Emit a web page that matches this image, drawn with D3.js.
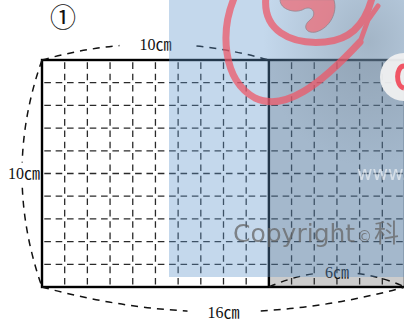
<!DOCTYPE html>
<html>
<head>
<meta charset="utf-8">
<script src="https://cdn.jsdelivr.net/npm/d3@7"></script>
<style>
    body { margin: 0; background: #fff; }
    svg { display: block; }
    .lbl { font-family: "Liberation Serif", "Noto Sans CJK JP", serif; font-size: 16px; fill: #111; }
</style>
</head>
<body>
<svg id="chart" width="404" height="319"></svg>
<script>
// grid size in cm (one cell = 1cm)
var columns = d3.range(0, 17);
var rows = d3.range(0, 11);
// the thick split line and shaded part
var splitAt = 10;
var shadedFrom = 10, shadedTo = 16;
// brace labels
var braces = [
    {name: "top", from: [0, 0], to: [10, 0], label: "10㎝", bulge: -16},
    {name: "left", from: [0, 0], to: [0, 10], label: "10㎝", bulge: -20},
    {name: "bottom", from: [0, 10], to: [16, 10], label: "16㎝", bulge: 25},
    {name: "part", from: [10, 10], to: [16, 10], label: "6㎝", bulge: -15}
];
var figureNo = "①";

const width = 404, height = 319;
var svg = d3.select("#chart");

var xScale = d3.scaleLinear().domain([0, 16]).range([42, 405]);
var yScale = d3.scaleLinear().domain([0, 10]).range([60, 287]);

// shaded part of the rectangle
svg.append("rect")
    .attr("x", xScale(shadedFrom))
    .attr("y", yScale(0))
    .attr("width", xScale(shadedTo) - xScale(shadedFrom))
    .attr("height", yScale(10) - yScale(0))
    .attr("fill", "#cccccc");

// dashed inner grid
var grid = svg.append("g").attr("class", "grid")
    .attr("stroke", "#2a2a2a")
    .attr("stroke-width", 1.3)
    .attr("stroke-dasharray", "6.6,4.75")
    .attr("stroke-dashoffset", -2.3);

grid.selectAll(".h")
    .data(rows.filter(r => r > 0 && r < 10))
    .enter().append("line")
    .attr("class", "h")
    .attr("x1", xScale(0)).attr("x2", xScale(16))
    .attr("y1", d => yScale(d)).attr("y2", d => yScale(d));

grid.selectAll(".v")
    .data(columns.filter(c => c > 0 && c < 16 && c !== splitAt))
    .enter().append("line")
    .attr("class", "v")
    .attr("y1", yScale(0)).attr("y2", yScale(10))
    .attr("x1", d => xScale(d)).attr("x2", d => xScale(d));

// outline + split line
var outline = svg.append("g")
    .attr("stroke", "#000")
    .attr("stroke-width", 2.4)
    .attr("fill", "none");
outline.append("rect")
    .attr("x", xScale(0)).attr("y", yScale(0))
    .attr("width", xScale(16) - xScale(0))
    .attr("height", yScale(10) - yScale(0));
outline.append("line")
    .attr("x1", xScale(splitAt)).attr("x2", xScale(splitAt))
    .attr("y1", yScale(0)).attr("y2", yScale(10));

// dashed braces with a gap for the label
braces.forEach(b => {
    var x0 = xScale(b.from[0]), y0 = yScale(b.from[1]);
    var x1 = xScale(b.to[0]), y1 = yScale(b.to[1]);
    var mx = (x0 + x1) / 2, my = (y0 + y1) / 2;
    var vertical = x0 === x1;
    // control point pulled out twice the bulge so the curve apex is at bulge
    var cx = vertical ? mx + b.bulge * 2 : mx;
    var cy = vertical ? my : my + b.bulge * 2;
    var apexX = vertical ? mx + b.bulge : mx;
    var apexY = vertical ? my : my + b.bulge;

    var path = d3.path();
    path.moveTo(x0, y0);
    path.quadraticCurveTo(cx, cy, x1, y1);

    var g = svg.append("g").attr("class", "brace_" + b.name);
    var maskId = "mask_" + b.name;
    var mask = svg.append("mask").attr("id", maskId);
    mask.append("rect").attr("width", width).attr("height", height).attr("fill", "#fff");
    var gapW = vertical ? 40 : (b.name === "part" ? 40 : 72);
    var gapH = vertical ? 22 : 16;
    mask.append("rect")
        .attr("x", apexX - gapW / 2).attr("y", apexY - gapH / 2)
        .attr("width", gapW).attr("height", gapH)
        .attr("fill", "#000");

    g.append("path")
        .attr("d", path.toString())
        .attr("fill", "none")
        .attr("stroke", "#111")
        .attr("stroke-width", 1.5)
        .attr("stroke-dasharray", "7,6")
        .attr("mask", "url(#" + maskId + ")");

    g.append("text")
        .attr("class", "lbl")
        .attr("x", apexX + (vertical ? 2 : 0))
        .attr("y", apexY)
        .attr("text-anchor", "middle")
        .attr("dominant-baseline", "central")
        .text(b.label);
});

svg.append("text")
    .attr("class", "lbl")
    .attr("x", 63).attr("y", 18)
    .attr("text-anchor", "middle")
    .attr("dominant-baseline", "central")
    .style("font-size", "26px")
    .text(figureNo);

// watermark overlay
var wm = svg.append("g").attr("class", "watermark");
var defs = svg.append("defs");
var grad = defs.append("radialGradient").attr("id", "wmShade")
    .attr("cx", "0.85").attr("cy", "0.15").attr("r", "0.45");
grad.append("stop").attr("offset", "0").attr("stop-color", "#7a8a99").attr("stop-opacity", 0.45);
grad.append("stop").attr("offset", "1").attr("stop-color", "#7a8a99").attr("stop-opacity", 0);

wm.append("rect")
    .attr("x", 169).attr("y", 0).attr("width", 235).attr("height", 277)
    .attr("fill", "rgb(96,150,204)").attr("opacity", 0.37);
wm.append("rect")
    .attr("x", 169).attr("y", 0).attr("width", 235).attr("height", 277)
    .attr("fill", "url(#wmShade)");

var red = wm.append("g").attr("fill", "none").attr("stroke", "#f05565").attr("opacity", 0.72)
    .attr("stroke-linecap", "round").attr("stroke-linejoin", "round");
red.append("path").attr("stroke-width", 7)
    .attr("d", "M235,-4 C220,30 222,80 255,98 C285,112 320,85 360,42");
red.append("path").attr("stroke-width", 7)
    .attr("d", "M266,-4 C262,30 290,45 325,42 C350,40 365,25 372,-2");
red.append("path").attr("stroke-width", 5)
    .attr("d", "M360,42 L368,20 L378,6");
red.append("path").attr("fill", "#f06a75").attr("stroke", "#8a6a70").attr("stroke-width", 0.8)
    .attr("d", "M280,0 C280,10 296,14 304,9 C312,5 318,14 310,20 C302,26 306,34 316,32 C330,28 338,12 334,0 Z");

wm.append("circle").attr("cx", 404).attr("cy", 77).attr("r", 24)
    .attr("fill", "#f2f2f2").attr("opacity", 0.92);
wm.append("path").attr("d", "M404,66 C396,66 395,86 404,88")
    .attr("fill", "none").attr("stroke", "#f05565").attr("stroke-width", 5);

wm.append("text")
    .attr("x", 357).attr("y", 180)
    .attr("font-family", "DejaVu Sans, sans-serif").attr("font-size", 19)
    .attr("fill", "#fff").attr("opacity", 0.55)
    .text("www.");

wm.append("text")
    .attr("x", 233).attr("y", 242)
    .attr("font-family", "DejaVu Sans, sans-serif").attr("font-size", 25)
    .attr("fill", "#666").attr("opacity", 0.75)
    .text("Copyright");
wm.append("text")
    .attr("x", 357).attr("y", 242)
    .attr("font-family", "DejaVu Sans, sans-serif").attr("font-size", 15)
    .attr("fill", "#666").attr("opacity", 0.75)
    .text("©");
wm.append("text")
    .attr("x", 374).attr("y", 242)
    .attr("font-family", "Noto Sans CJK SC, sans-serif").attr("font-size", 25)
    .attr("fill", "#666").attr("opacity", 0.75)
    .text("科");
</script>
</body>
</html>
